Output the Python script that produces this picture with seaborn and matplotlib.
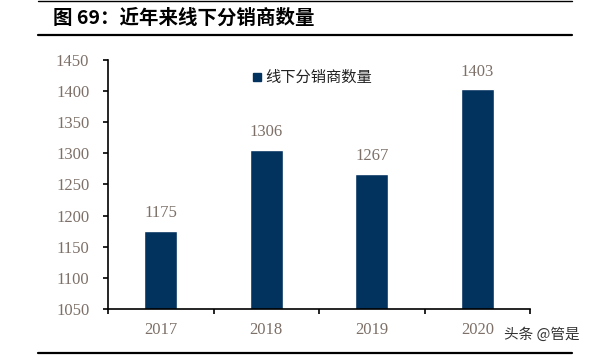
import matplotlib
matplotlib.use("Agg")
import matplotlib.pyplot as plt
import seaborn as sns
import pandas as pd
from matplotlib.ticker import FixedLocator, MultipleLocator
from matplotlib.lines import Line2D

years = ["2017", "2018", "2019", "2020"]
values = [1175, 1306, 1267, 1403]
series_name = "线下分销商数量"
title = "图 69：近年来线下分销商数量"
watermark = "头条 @管是"

sns.set_theme(style="white")
plt.rcParams['font.family'] = ['Noto Sans CJK SC', 'DejaVu Sans']

df = pd.DataFrame({"year": years, "value": values})

fig = plt.figure(figsize=(5.91, 3.57), dpi=100)
ax = fig.add_axes([108/591, 1-309/357, 422/591, 249/357])

bar_color = "#02335F"
sns.barplot(data=df, x="year", y="value", color=bar_color, width=0.31,
            saturation=1, ax=ax)

ax.set_ylim(1050, 1450)
ax.set_xlim(-0.5, 3.5)
ax.yaxis.set_major_locator(MultipleLocator(50))
ax.set_xlabel("")
ax.set_ylabel("")

label_color = "#7d7068"
serif = ["Liberation Serif", "DejaVu Serif"]
for lbl in ax.get_yticklabels() + ax.get_xticklabels():
    lbl.set_fontfamily(serif)
    lbl.set_color(label_color)
    lbl.set_fontsize(12)

for s in ["top", "right"]:
    ax.spines[s].set_visible(False)
for s in ["left", "bottom"]:
    ax.spines[s].set_color("black")
    ax.spines[s].set_linewidth(1.2)

ax.tick_params(axis="y", which="major", direction="out", length=3.5, width=1.2,
               color="black", left=True, pad=10)
ax.tick_params(axis="x", which="major", length=0, pad=9)
ax.xaxis.set_minor_locator(FixedLocator([-0.5, 0.5, 1.5, 2.5, 3.5]))
ax.tick_params(axis="x", which="minor", direction="out", length=3.5, width=1.2,
               color="black", bottom=True)

for i, v in enumerate(values):
    ax.annotate(str(v), (i, v), xytext=(0, 7), textcoords="offset points",
                ha="center", va="bottom", fontsize=12, color=label_color,
                fontfamily=serif)

handle = Line2D([], [], marker="s", linestyle="none", markersize=6,
                color=bar_color)
ax.legend([handle], [series_name], loc="center left",
          bbox_to_anchor=(0.325, 0.93), frameon=False, fontsize=11,
          handletextpad=0.1, borderaxespad=0, handlelength=0.8,
          labelcolor="#222222")

fig.text(53/591, 1-18/357, title, fontsize=14, fontweight="bold",
         ha="left", va="center", color="black")
fig.add_artist(Line2D([38/591, 572/591], [1-1/357, 1-1/357],
                      color="black", linewidth=1.0, transform=fig.transFigure))
fig.add_artist(Line2D([38/591, 572/591], [1-34.5/357, 1-34.5/357],
                      color="black", linewidth=1.6, transform=fig.transFigure))
fig.add_artist(Line2D([38/591, 572/591], [1-353/357, 1-353/357],
                      color="black", linewidth=1.6, transform=fig.transFigure))
fig.text(580/591, 1-335/357, watermark, fontsize=10.5, ha="right", va="center",
         color="#333333")

fig.savefig("out.png", dpi=100)
